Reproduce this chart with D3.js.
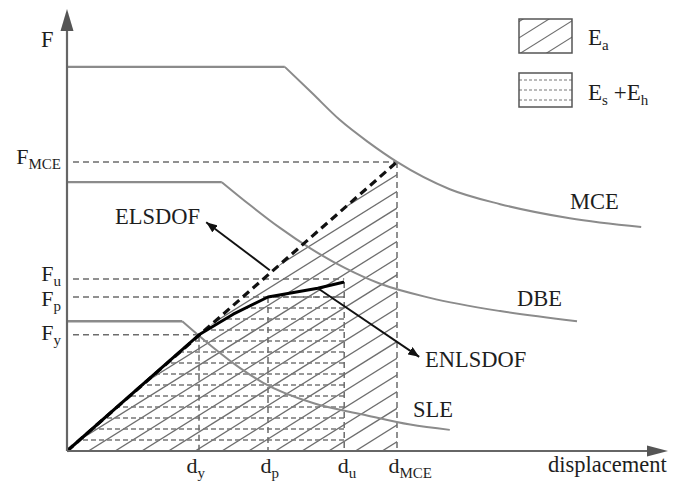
<!DOCTYPE html>
<html>
<head>
<meta charset="utf-8">
<script src="https://cdn.jsdelivr.net/npm/d3@7"></script>
<style>
  html, body { margin: 0; padding: 0; background: #fff; }
  svg { display: block; }
</style>
</head>
<body>
<svg id="chart" width="688" height="487"></svg>
<script>
// ---- data (displacement, force) in plot units ----
// demand spectra: constant plateau level, then the descending branch
const mcePlateau = 87.3;
const mceCurve = [[36.3, 87.3], [40.8, 81.4], [45.5, 75.2], [50.2, 70.2], [55, 65.7],
                  [63.8, 59.5], [72.2, 56.1], [83.8, 52.9], [95.7, 50.9]];
const dbePlateau = 61.1;
const dbeCurve = [[25.8, 61.1], [30.5, 55.9], [35.5, 50.7], [40.5, 46.1], [46.3, 41.6],
                  [52.2, 38.0], [60.5, 34.8], [72.2, 31.8], [85, 29.5]];
const slePlateau = 29.5;
const sleCurve = [[19.2, 29.5], [24.3, 23.6], [28.8, 18.9], [32.7, 15.5], [41, 10.9],
                  [49.3, 8.3], [57.2, 6.0], [63.8, 4.8]];

// equivalent linear and nonlinear SDOF capacity curves
const elsdof = [[0, 0], [55, 65.7]];
const enlsdof = [[0, 0], [22, 26.4], [27.7, 31.1], [33.5, 35], [41.8, 37.0], [46.2, 38.4]];

// axis tick labels
const dTicks = [{ v: 22, sub: "y" }, { v: 33.5, sub: "p" }, { v: 46.2, sub: "u" }, { v: 55, sub: "MCE" }];
const fTicks = [{ v: 26.4, sub: "y" }, { v: 35, sub: "p" }, { v: 39.1, sub: "u" }, { v: 65.7, sub: "MCE" }];

// guide lines: verticals from the curve down to the axis, horizontals from the axis out
const dGuides = [{ d: 22, f: 26.4 }, { d: 33.5, f: 35 }, { d: 46.2, f: 38.4 }, { d: 55, f: 65.7 }];
const fGuides = [{ f: 26.4, d: 22 }, { f: 35, d: 46.2 }, { f: 39.1, d: 46.2 }, { f: 65.7, d: 55 }];

// annotation arrows: [from, to]
const arrowElsdof = [[33.8, 41.1], [23.2, 52.0]];
const arrowEnlsdof = [[41.8, 37.0], [58.7, 21.4]];

// ---- layout ----
const FONT = "'Liberation Serif', 'Times New Roman', 'DejaVu Serif', serif";
const x = d3.scaleLinear().domain([0, 100]).range([67, 667]);
const y = d3.scaleLinear().domain([0, 100]).range([451, 11]);

const svg = d3.select("#chart").attr("font-family", FONT);
const defs = svg.append("defs");
const line = d3.line().x(d => x(d[0])).y(d => y(d[1]));
const smooth = d3.line().x(d => x(d[0])).y(d => y(d[1])).curve(d3.curveMonotoneX);

const GREY = "#8b8b8b", AXIS = "#666", DASH = "#6c6c6c", INK = "#1e1e1e";

// clip regions for the two energy areas
const dMCE = elsdof[1][0], fMCE = elsdof[1][1];
const du = enlsdof[enlsdof.length - 1][0];
defs.append("clipPath").attr("id", "clip-ea")
  .append("path").attr("d", line([[0, 0], [dMCE, fMCE], [dMCE, 0]]) + "Z");
defs.append("clipPath").attr("id", "clip-es")
  .append("path").attr("d", line(enlsdof.concat([[du, 0]])) + "Z");

// arrow marker for the annotation leaders
defs.append("marker").attr("id", "head")
  .attr("viewBox", "0 0 10 8").attr("refX", 10).attr("refY", 4)
  .attr("markerUnits", "userSpaceOnUse").attr("markerWidth", 11).attr("markerHeight", 9)
  .attr("orient", "auto")
  .append("path").attr("d", "M0,0L10,4L0,8Z").attr("fill", "#111");

// diagonal hatching helper
function hatch(g, x0, yBase, slope, gap, n) {
  for (let k = -n; k <= n; k++) {
    const b = x0 + k * gap, L = 500;
    g.append("line")
      .attr("x1", b - L).attr("y1", yBase + L * slope)
      .attr("x2", b + L).attr("y2", yBase - L * slope);
  }
}

// E_a : diagonal hatch under the elastic line
const gEa = svg.append("g").attr("clip-path", "url(#clip-ea)")
  .attr("stroke", "#6e6e6e").attr("stroke-width", 1.3);
hatch(gEa, x(0) + 128.3, y(0), 0.625, 26.7, 20);

// E_s + E_h : horizontal dashed rows under the nonlinear curve
const gEs = svg.append("g").attr("clip-path", "url(#clip-es)");
gEs.selectAll("line").data(d3.range(2.5, 35.01, 2.5)).join("line")
  .attr("x1", x(0)).attr("x2", x(du))
  .attr("y1", d => y(d)).attr("y2", d => y(d))
  .attr("stroke", "#777").attr("stroke-width", 1.4).attr("stroke-dasharray", "5,3");

// guide dashes
svg.append("g").selectAll("line").data(dGuides).join("line")
  .attr("x1", d => x(d.d)).attr("x2", d => x(d.d))
  .attr("y1", d => y(d.f)).attr("y2", y(0))
  .attr("stroke", DASH).attr("stroke-width", 1.5).attr("stroke-dasharray", "6,4");
svg.append("g").selectAll("line").data(fGuides).join("line")
  .attr("x1", x(0) + 6).attr("x2", d => x(d.d))
  .attr("y1", d => y(d.f)).attr("y2", d => y(d.f))
  .attr("stroke", DASH).attr("stroke-width", 1.5).attr("stroke-dasharray", "6,4");

// demand spectra
const spectra = [[mcePlateau, mceCurve], [dbePlateau, dbeCurve], [slePlateau, sleCurve]];
const gSpec = svg.append("g").attr("fill", "none").attr("stroke", GREY);
spectra.forEach(([level, curve]) => {
  gSpec.append("path").attr("d", line([[0, level], curve[0]]))
    .attr("stroke-width", 2.4);
  gSpec.append("path").attr("d", smooth(curve)).attr("stroke-width", 2);
});

// capacity curves
svg.append("path").attr("d", line(elsdof)).attr("fill", "none")
  .attr("stroke", "#111").attr("stroke-width", 3.2).attr("stroke-dasharray", "8,5");
svg.append("path").attr("d", line(enlsdof)).attr("fill", "none")
  .attr("stroke", "#000").attr("stroke-width", 3).attr("stroke-linejoin", "round");

// axes
const gx = svg.append("g").attr("transform", `translate(0,${y(0)})`)
  .call(d3.axisBottom(x).tickValues(dTicks.map(d => d.v)).tickSize(0).tickSizeOuter(0).tickFormat(""));
gx.select(".domain").attr("d", `M${x(0)},0H650`).attr("stroke", AXIS).attr("stroke-width", 2.2);
const gy = svg.append("g").attr("transform", `translate(${x(0)},0)`)
  .call(d3.axisLeft(y).tickValues(fTicks.map(d => d.v)).tickSize(0).tickSizeOuter(0).tickFormat(""));
gy.select(".domain").attr("d", `M0,${y(0)}V28`).attr("stroke", AXIS).attr("stroke-width", 2.2);
gx.attr("font-family", FONT);
gy.attr("font-family", FONT);

svg.append("path").attr("fill", "#555")
  .attr("d", `M668,${y(0)}L647,${y(0) - 5.5}L647,${y(0) + 5.5}Z`);
svg.append("path").attr("fill", "#555")
  .attr("d", `M${x(0)},9L${x(0) - 6.5},31L${x(0) + 6.5},31Z`);

// text with a lowered subscript
function subLabel(sel, base, sub, size, subSize) {
  sel.attr("font-family", FONT).attr("fill", INK);
  sel.append("tspan").text(base).attr("font-size", size);
  sel.append("tspan").text(sub).attr("font-size", subSize).attr("dy", 5);
}

const dLabelDx = { y: -13, p: -8, u: -7, MCE: -9 };
gx.selectAll(".tick").data(dTicks).each(function (d) {
  const t = d3.select(this).append("text").attr("x", dLabelDx[d.sub]).attr("y", 22)
    .attr("text-anchor", "start");
  subLabel(t, "d", d.sub, 22, 15);
});
const fLabelDy = { y: 5, p: 8, u: 2, MCE: 2 };
gy.selectAll(".tick").data(fTicks).each(function (d) {
  const t = d3.select(this).append("text").attr("x", -6).attr("y", fLabelDy[d.sub])
    .attr("text-anchor", "end");
  subLabel(t, "F", d.sub, 22, 15);
});

// axis titles and curve names
const labels = [
  { t: "F", x: 41, y: 47 },
  { t: "displacement", x: 548, y: 472 },
  { t: "ELSDOF", x: 115, y: 224 },
  { t: "ENLSDOF", x: 425, y: 367 },
  { t: "MCE", x: 570, y: 209 },
  { t: "DBE", x: 517, y: 306 },
  { t: "SLE", x: 413, y: 417 }
];
svg.append("g").selectAll("text").data(labels).join("text")
  .attr("font-family", FONT).attr("fill", INK)
  .attr("x", d => d.x).attr("y", d => d.y).attr("font-size", 22.5).text(d => d.t);

// annotation leaders
[arrowElsdof, arrowEnlsdof].forEach(a => {
  svg.append("line")
    .attr("x1", x(a[0][0])).attr("y1", y(a[0][1]))
    .attr("x2", x(a[1][0])).attr("y2", y(a[1][1]))
    .attr("stroke", "#111").attr("stroke-width", 1.9).attr("marker-end", "url(#head)");
});

// legend
const lg = svg.append("g");
defs.append("clipPath").attr("id", "clip-leg")
  .append("rect").attr("x", 519).attr("y", 19).attr("width", 53).attr("height", 34);
const lgHatch = lg.append("g").attr("clip-path", "url(#clip-leg)")
  .attr("stroke", "#6e6e6e").attr("stroke-width", 1.1);
hatch(lgHatch, 520.7, 53, 0.625, 26, 4);
lg.append("rect").attr("x", 519).attr("y", 19).attr("width", 53).attr("height", 34)
  .attr("fill", "none").attr("stroke", "#555").attr("stroke-width", 1.5);
lg.selectAll("line.row").data([80, 90, 100]).join("line").attr("class", "row")
  .attr("x1", 519).attr("x2", 572).attr("y1", d => d).attr("y2", d => d)
  .attr("stroke", "#777").attr("stroke-width", 1).attr("stroke-dasharray", "3,2");
lg.append("rect").attr("x", 519).attr("y", 73).attr("width", 53).attr("height", 34)
  .attr("fill", "none").attr("stroke", "#555").attr("stroke-width", 1.5);

const t1 = lg.append("text").attr("x", 588).attr("y", 45);
subLabel(t1, "E", "a", 23, 15);
const t2 = lg.append("text").attr("x", 588).attr("y", 100).attr("xml:space", "preserve");
subLabel(t2, "E", "s", 23, 15);
t2.append("tspan").text(" +E").attr("font-size", 23).attr("dy", -5);
t2.append("tspan").text("h").attr("font-size", 15).attr("dy", 5);
</script>
</body>
</html>
